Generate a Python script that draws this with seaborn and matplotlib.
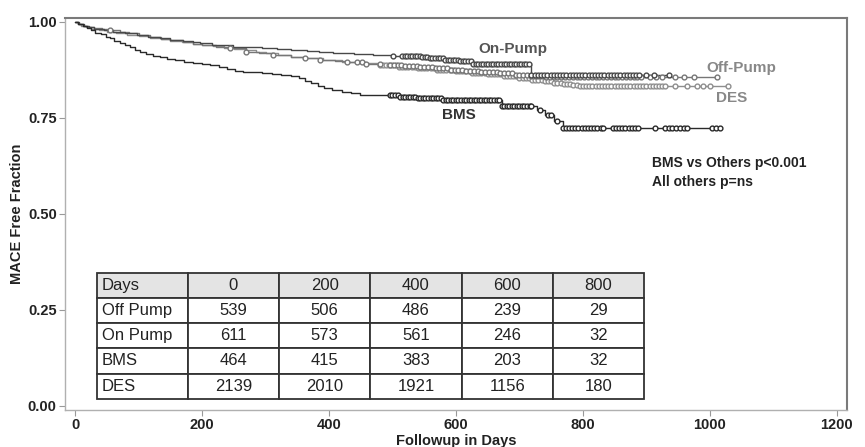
import numpy as np
import pandas as pd
import matplotlib
matplotlib.use("Agg")
import matplotlib.pyplot as plt
import seaborn as sns

# ---- data ----
bms_days = [0, 5, 12, 18, 25, 32, 40, 48, 55, 62, 70, 78, 86, 95, 103, 112, 122, 133, 145, 158, 172, 186, 200, 213, 226, 240, 252, 265, 280, 295, 310, 325, 340, 352, 362, 372, 382, 392, 405, 420, 435, 449, 480, 512, 540, 580, 672, 728, 740, 755, 768, 1016]
bms_surv = [1.0, 0.995, 0.99, 0.985, 0.979, 0.972, 0.968, 0.962, 0.957, 0.951, 0.946, 0.94, 0.934, 0.928, 0.922, 0.917, 0.912, 0.908, 0.904, 0.901, 0.897, 0.894, 0.891, 0.887, 0.883, 0.878, 0.873, 0.871, 0.869, 0.867, 0.865, 0.862, 0.858, 0.853, 0.847, 0.840, 0.833, 0.827, 0.822, 0.818, 0.814, 0.810, 0.809, 0.805, 0.801, 0.797, 0.782, 0.771, 0.758, 0.743, 0.723, 0.723]
bms_cens = [496, 500, 504, 508, 512, 516, 520, 524, 528, 532, 536, 540, 544, 548, 552, 556, 560, 564, 568, 572, 576, 580, 584, 588, 592, 596, 600, 604, 608, 612, 616, 620, 624, 628, 632, 636, 640, 644, 648, 652, 656, 660, 664, 668, 672, 676, 680, 684, 688, 692, 696, 700, 704, 708, 712, 716, 719, 733, 745, 750, 760, 768, 773, 778, 783, 788, 793, 798, 803, 808, 813, 818, 823, 828, 832, 847, 852, 857, 862, 867, 872, 877, 882, 887, 913, 929, 935, 941, 947, 953, 959, 964, 1003, 1010, 1016]

on_days = [0, 6, 14, 22, 30, 45, 60, 78, 97, 115, 134, 150, 170, 185, 197, 215, 232, 249, 270, 295, 318, 340, 365, 385, 407, 440, 470, 500, 528, 545, 559, 580, 606, 627, 719, 935]
on_surv = [1.0, 0.995, 0.99, 0.986, 0.982, 0.978, 0.975, 0.971, 0.966, 0.962, 0.957, 0.954, 0.95, 0.947, 0.944, 0.941, 0.939, 0.936, 0.934, 0.932, 0.930, 0.927, 0.925, 0.921, 0.918, 0.916, 0.914, 0.912, 0.911, 0.908, 0.905, 0.902, 0.899, 0.891, 0.862, 0.862]
on_cens = [501, 515, 519, 523, 527, 531, 535, 539, 543, 547, 551, 555, 559, 563, 567, 571, 575, 579, 583, 587, 591, 595, 599, 603, 607, 611, 615, 619, 623, 627, 631, 635, 639, 643, 647, 651, 655, 659, 663, 667, 671, 675, 679, 683, 687, 691, 695, 699, 703, 707, 711, 715, 719, 724, 729, 734, 739, 744, 749, 754, 759, 764, 769, 774, 779, 784, 789, 794, 799, 804, 809, 814, 819, 824, 829, 834, 839, 844, 849, 854, 859, 864, 869, 874, 879, 884, 889, 900, 912, 935]

off_days = [0, 5, 12, 20, 30, 42, 55, 70, 85, 100, 118, 135, 150, 170, 185, 200, 222, 244, 270, 290, 312, 340, 362, 386, 410, 428, 459, 496, 520, 540, 565, 590, 615, 640, 665, 690, 715, 740, 1011]
off_surv = [1.0, 0.995, 0.99, 0.987, 0.984, 0.981, 0.979, 0.975, 0.970, 0.965, 0.960, 0.956, 0.952, 0.947, 0.943, 0.94, 0.935, 0.931, 0.922, 0.918, 0.914, 0.909, 0.905, 0.901, 0.898, 0.895, 0.890, 0.888, 0.885, 0.882, 0.879, 0.876, 0.873, 0.870, 0.867, 0.863, 0.860, 0.857, 0.857]
off_cens = [55, 244, 270, 312, 362, 386, 428, 444, 452, 459, 480, 496, 502, 508, 514, 520, 526, 532, 538, 544, 550, 556, 562, 568, 574, 580, 586, 592, 598, 604, 610, 616, 622, 628, 634, 640, 646, 652, 658, 664, 670, 676, 682, 688, 694, 700, 706, 712, 718, 724, 730, 736, 742, 748, 754, 760, 766, 772, 778, 784, 790, 796, 802, 808, 814, 820, 826, 832, 838, 844, 850, 856, 862, 868, 874, 880, 886, 892, 905, 915, 925, 945, 960, 975, 1011]

des_days = [0, 4, 10, 17, 25, 37, 50, 65, 82, 100, 118, 135, 150, 168, 185, 200, 218, 235, 250, 268, 285, 300, 320, 340, 360, 390, 420, 450, 480, 510, 540, 570, 600, 625, 650, 675, 700, 720, 740, 755, 770, 782, 795, 1028]
des_surv = [1.0, 0.995, 0.99, 0.986, 0.982, 0.978, 0.975, 0.971, 0.967, 0.963, 0.959, 0.955, 0.951, 0.947, 0.943, 0.94, 0.937, 0.933, 0.93, 0.926, 0.923, 0.92, 0.915, 0.910, 0.905, 0.900, 0.896, 0.892, 0.888, 0.884, 0.88, 0.876, 0.872, 0.868, 0.864, 0.858, 0.853, 0.849, 0.845, 0.841, 0.838, 0.835, 0.832, 0.832]
des_cens = [480, 485, 490, 495, 500, 505, 510, 515, 520, 525, 530, 535, 540, 545, 550, 555, 560, 565, 570, 575, 580, 585, 590, 595, 600, 605, 610, 615, 620, 625, 630, 635, 640, 645, 650, 655, 660, 665, 670, 675, 680, 685, 690, 695, 700, 705, 710, 715, 720, 725, 730, 735, 740, 745, 750, 755, 760, 765, 770, 775, 780, 785, 790, 795, 800, 805, 810, 815, 820, 825, 830, 835, 840, 845, 850, 855, 860, 865, 870, 875, 880, 885, 890, 895, 900, 905, 910, 915, 920, 925, 930, 945, 964, 980, 989, 1000, 1028]

table_cols = ["Days", "0", "200", "400", "600", "800"]
table_rows = ["Off Pump", "On Pump", "BMS", "DES"]
risk_off = [539, 506, 486, 239, 29]
risk_on = [611, 573, 561, 246, 32]
risk_bms = [464, 415, 383, 203, 32]
risk_des = [2139, 2010, 1921, 1156, 180]

x_ticks = [0, 200, 400, 600, 800, 1000, 1200]
y_ticks = [0.00, 0.25, 0.50, 0.75, 1.00]

# ---- styling ----
sns.set_style("white")
plt.rcParams["font.family"] = ["Liberation Sans", "DejaVu Sans"]

fig = plt.figure(figsize=(8.65, 4.47), dpi=100)
ax = fig.add_axes([0.0751, 0.0828, 0.904, 0.877])

curves = [
    ("DES", des_days, des_surv, des_cens, "#8e8e8e"),
    ("Off-Pump", off_days, off_surv, off_cens, "#767676"),
    ("On-Pump", on_days, on_surv, on_cens, "#484848"),
    ("BMS", bms_days, bms_surv, bms_cens, "#2a2a2a"),
]

for name, d, s, c, col in curves:
    df = pd.DataFrame({"day": d, "surv": s})
    sns.lineplot(data=df, x="day", y="surv", ax=ax, color=col, linewidth=1.0,
                 drawstyle="steps-post", estimator=None, sort=False, legend=False)
    d_arr = np.asarray(d)
    s_arr = np.asarray(s)
    idx = np.searchsorted(d_arr, np.asarray(c), side="right") - 1
    cdf = pd.DataFrame({"day": c, "surv": s_arr[idx]})
    sns.scatterplot(data=cdf, x="day", y="surv", ax=ax, marker="o", s=12,
                    facecolor="white", edgecolor=col, linewidth=1.0, legend=False, zorder=3)

ax.set_xlim(-16, 1216)
ax.set_ylim(-0.0104, 1.0104)
ax.set_xticks(x_ticks)
ax.set_xticklabels([str(t) for t in x_ticks])
ax.set_yticks(y_ticks)
ax.set_yticklabels([f"{t:.2f}" for t in y_ticks])
ax.tick_params(axis="both", which="both", direction="out", length=4, width=0.8,
               color="#999999", labelsize=10.5, labelcolor="#222222", pad=2,
               bottom=True, left=True)
for lab in ax.get_xticklabels() + ax.get_yticklabels():
    lab.set_fontweight("bold")
ax.set_xlabel("Followup in Days", fontsize=10.5, fontweight="bold", color="#222222", labelpad=1)
ax.set_ylabel("MACE Free Fraction", fontsize=10.5, fontweight="bold", color="#222222", labelpad=3)

for side in ["left", "bottom"]:
    ax.spines[side].set_color("#b0b0b0")
    ax.spines[side].set_linewidth(1.0)
for side in ["top", "right"]:
    ax.spines[side].set_color("#7a7a7a")
    ax.spines[side].set_linewidth(1.5)

# curve labels
ax.text(690, 0.930, "On-Pump", fontsize=11, fontweight="bold", color="#555555", ha="center", va="center")
ax.text(1049, 0.880, "Off-Pump", fontsize=11, fontweight="bold", color="#888888", ha="center", va="center")
ax.text(1034, 0.802, "DES", fontsize=11, fontweight="bold", color="#888888", ha="center", va="center")
ax.text(605, 0.758, "BMS", fontsize=11, fontweight="bold", color="#333333", ha="center", va="center")
ax.text(909, 0.633, "BMS vs Others p<0.001", fontsize=10, fontweight="bold", color="#222222", ha="left", va="center")
ax.text(909, 0.583, "All others p=ns", fontsize=10, fontweight="bold", color="#222222", ha="left", va="center")

# number-at-risk table
cell_text = [table_cols]
for lab, vals in zip(table_rows, [risk_off, risk_on, risk_bms, risk_des]):
    cell_text.append([lab] + [str(v) for v in vals])
tbl = ax.table(cellText=cell_text, bbox=[0.0405, 0.0288, 0.700, 0.3207], cellLoc="center")
tbl.auto_set_font_size(False)
tbl.set_fontsize(12)
for (r, c), cell in tbl.get_celld().items():
    cell.set_edgecolor("#333333")
    cell.set_linewidth(1.3)
    cell.get_text().set_color("#222222")
    if r == 0:
        cell.set_facecolor("#e4e4e4")
    else:
        cell.set_facecolor("white")
    if c == 0:
        cell.get_text().set_ha("left")
        cell.PAD = 0.06
        cell._loc = "left"

fig.savefig("out.png", dpi=100)
